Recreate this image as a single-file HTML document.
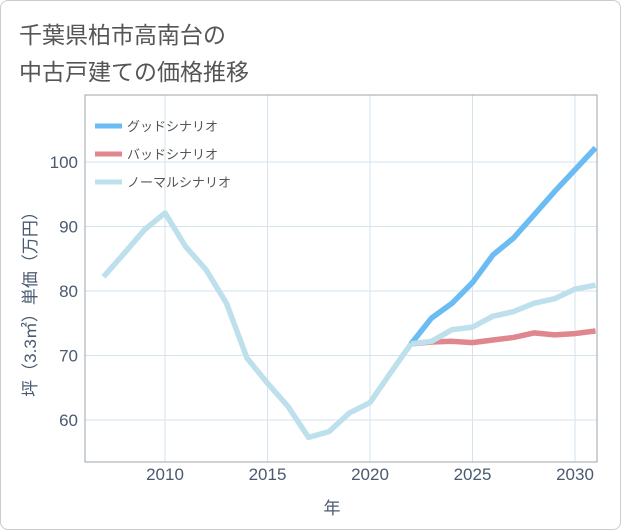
<!DOCTYPE html>
<html><head><meta charset="utf-8"><style>
body{margin:0;background:#fff;}
#wrap{position:relative;width:619px;height:528px;border:1px solid #ccc;border-radius:8px;background:#fff;font-family:"Liberation Sans","Noto Sans CJK JP",sans-serif;overflow:hidden}
.t{position:absolute;left:18px;font-size:23px;color:#555;}
</style></head><body>
<div id="wrap">
<div class="t" style="top:15px">千葉県柏市高南台の</div>
<div class="t" style="top:52px">中古戸建ての価格推移</div>
<svg id="chart" width="621" height="530" style="position:absolute;left:-1px;top:-1px"></svg>
</div>
<script>
const years=[2007,2008,2009,2010,2011,2012,2013,2014,2015,2016,2017,2018,2019,2020,2021,2022];
const history=[82.2,85.8,89.5,92.1,86.9,83.3,78.1,69.6,65.7,62.1,57.3,58.2,61.1,62.7,67.3,71.8];
const futureYears=[2022,2023,2024,2025,2026,2027,2028,2029,2030,2031];
const good=[71.8,75.8,78.1,81.3,85.6,88.2,91.8,95.4,98.8,102.2];
const bad=[71.8,72.1,72.2,72.0,72.4,72.8,73.5,73.2,73.4,73.8];
const normal=[71.8,72.2,74.0,74.4,76.1,76.8,78.1,78.8,80.3,80.9];
const xTicks=[2010,2015,2020,2025,2030];
const yTicks=[60,70,80,90,100];
const legendNames=["グッドシナリオ","バッドシナリオ","ノーマルシナリオ"];
const colors=["#6bbcf3","#e0868e","#bde0ec"];
const L=85,R=597,T=95,B=462;
const x=v=>165+(v-2010)*20.5;
const y=v=>420-(v-60)*6.45;
const svg=document.getElementById('chart');
const NS="http://www.w3.org/2000/svg";
function mk(tag,at,parent){const e=document.createElementNS(NS,tag);for(const k in at)e.setAttribute(k,at[k]);(parent||svg).appendChild(e);return e;}
xTicks.forEach(v=>{
 const l=mk('line',{x1:x(v),x2:x(v),y1:T,y2:B,stroke:'#d5e3ec','stroke-width':1});
 
 
 const t=mk('text',{x:x(v),y:480,'text-anchor':'middle','font-size':17,fill:'#4a5a70'});
 t.textContent=v;
 
 
});
yTicks.forEach(v=>{
 const l=mk('line',{x1:L,x2:R,y1:y(v),y2:y(v),stroke:'#d5e3ec','stroke-width':1});
 
 
 const t=mk('text',{x:78,y:y(v)+6,'text-anchor':'end','font-size':17,fill:'#4a5a70'});
 t.textContent=v;
 
 
});
const box=mk('rect',{x:L,y:T,width:R-L,height:B-T,fill:'none',stroke:'#9aa4ae','stroke-width':1});


function series(xs,ys,c,name){
 const p=mk('polyline',{points:xs.map((v,i)=>x(v)+','+y(ys[i])).join(' '),fill:'none',stroke:c,'stroke-width':5.5,'stroke-linejoin':'round'});
 
 
}
series(futureYears,good,colors[0],'good-scenario-line');
series(futureYears,bad,colors[1],'bad-scenario-line');
series(futureYears,normal,colors[2],'normal-scenario-line');
series(years,history,colors[2],'historical-line');
legendNames.forEach((n,i)=>{
 const yy=126+i*28;
 const l=mk('line',{x1:95,x2:122,y1:yy,y2:yy,stroke:colors[i],'stroke-width':5});
 
 
 const t=mk('text',{x:127,y:yy+5,'font-size':13,fill:'#555'});
 t.textContent=n;
 
 
});
const xt=mk('text',{x:332,y:514,'text-anchor':'middle','font-size':17,fill:'#4a5a70'});
xt.textContent='年';


const yt=mk('text',{x:0,y:0,'text-anchor':'middle','font-size':17,fill:'#4a5a70',transform:'translate(36,300) rotate(-90)'});
yt.textContent='坪（3.3㎡）単価（万円）';


</script>
</body></html>
